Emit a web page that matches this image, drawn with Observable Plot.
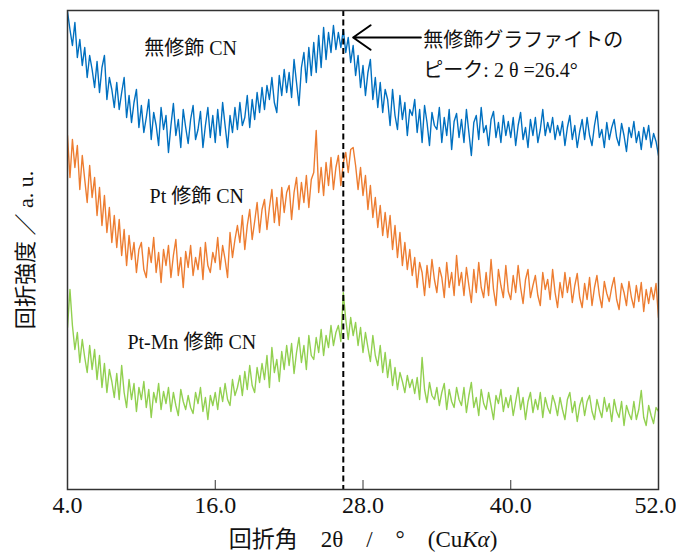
<!DOCTYPE html>
<html>
<head>
<meta charset="utf-8">
<script src="https://cdn.jsdelivr.net/npm/d3@7"></script>
<script src="https://cdn.jsdelivr.net/npm/@observablehq/plot@0.6"></script>
<style>
  html, body { margin: 0; padding: 0; background: #fff; }
  #chart { width: 676px; height: 553px; }
</style>
</head>
<body>
<div id="chart"></div>
<script>
// 2θ sampling grid (degrees)
const twoThetaStart = 4.0;
const twoThetaStep = 0.2;

// Intensity (a.u.), one value per 0.2° from 4.0° to 52.0°
const unmodifiedCN = [
  476, 458, 442, 465, 430, 448, 422, 440, 410, 432,
  418, 400, 426, 395, 420, 432, 388, 410, 398, 380,
  405, 378, 395, 410, 370, 392, 365, 385, 398, 360,
  382, 355, 370, 388, 348, 375, 362, 342, 380, 358,
  372, 335, 362, 384, 352, 368, 340, 378, 360, 344,
  368, 382, 348, 358, 376, 340, 362, 380, 350, 372,
  345, 378, 352, 385, 362, 340, 372, 355, 380, 358,
  385, 362, 370, 392, 360, 388, 368, 395, 375, 400,
  378, 402, 388, 410, 385, 375, 412, 392, 418, 395,
  415, 390, 428, 405, 382, 420, 435, 405, 440, 412,
  445, 415, 452, 420, 460, 428, 455, 435, 462, 438,
  455, 440, 458, 435, 450, 425, 442, 412, 432, 400,
  422, 392, 415, 428, 388, 410, 380, 405, 375, 398,
  388, 362, 398, 372, 358, 392, 368, 385, 352, 378,
  372, 388, 355, 378, 345, 382, 365, 342, 375, 362,
  358, 380, 345, 370, 352, 378, 338, 366, 374, 350,
  368, 345, 378, 355, 332, 365, 372, 348, 380, 355,
  362, 342, 368, 376, 350, 365, 345, 372, 352, 366,
  350, 370, 342, 362, 375, 348, 360, 340, 368, 352,
  370, 345, 358, 378, 352, 365, 355, 370, 348, 362,
  352, 366, 342, 360, 372, 348, 362, 340, 356, 368,
  348, 370, 352, 342, 362, 376, 350, 358, 340, 365,
  348, 360, 368, 350, 342, 364, 352, 336, 360, 350,
  366, 345, 356, 338, 360, 348, 362, 340, 354, 346,
  332
];

const ptCN = [
  352, 310, 348, 320, 342, 298, 332, 308, 285, 322,
  290, 310, 272, 300, 262, 292, 255, 280, 245, 272,
  240, 268, 232, 258, 222, 252, 228, 245, 215, 238,
  245, 218, 210, 240, 225, 250, 215, 235, 205, 238,
  222, 242, 210, 232, 248, 212, 230, 200, 236, 220,
  242, 212, 230, 218, 240, 208, 245, 222, 215, 235,
  225, 250, 218, 242, 228, 210, 255, 230, 248, 262,
  245, 272, 238, 262, 278, 248, 266, 285, 255, 278,
  288, 258, 280, 298, 265, 290, 262, 300, 275, 295,
  302, 268, 295, 310, 278, 305, 285, 312, 280, 308,
  315, 357, 295, 320, 292, 325, 302, 330, 298, 320,
  332, 302, 325, 335, 315, 338, 340, 322, 298, 320,
  292, 312, 278, 302, 270, 290, 260, 282, 252, 275,
  250, 272, 238, 262, 230, 255, 222, 245, 218, 238,
  212, 230, 200, 225, 215, 192, 222, 200, 228, 208,
  195, 220, 210, 190, 225, 200, 215, 192, 232, 202,
  215, 192, 220, 202, 185, 218, 195, 225, 200, 190,
  215, 192, 228, 198, 182, 218, 202, 190, 222, 196,
  188, 212, 195, 222, 200, 184, 208, 218, 190, 202,
  212, 192, 182, 215, 198, 208, 188, 218, 195, 180,
  205, 190, 215, 195, 210, 185, 202, 214, 190, 180,
  204, 188, 210, 182, 200, 212, 192, 180, 206, 194,
  186, 200, 210, 188, 178, 204, 195, 182, 206, 190,
  180, 202, 186, 205, 176, 198, 184, 200, 188, 204,
  170
];

const ptMnCN = [
  160, 198, 162, 138, 155, 125, 148, 130, 115, 142,
  118, 138, 108, 132, 100, 124, 95, 118, 106, 90,
  114, 88, 122, 95, 80, 108, 88, 104, 76, 100,
  88, 106, 80, 98, 70, 95, 85, 104, 78, 96,
  84, 100, 76, 95, 82, 72, 98, 86, 78, 92,
  80, 74, 95, 84, 100, 76, 90, 68, 92, 82,
  95, 78, 100, 86, 104, 88, 82, 108, 92, 100,
  112, 92, 116, 98, 122, 102, 95, 120, 105, 124,
  108, 132, 100, 140, 115, 128, 106, 136, 118, 142,
  122, 144, 114, 135, 150, 125, 142, 118, 152, 132,
  128, 150, 135, 158, 132, 152, 140, 162, 142, 155,
  162, 146, 195, 168, 148, 170, 152, 165, 142, 160,
  135, 155, 140, 126, 152, 132, 122, 142, 115, 135,
  110, 128, 102, 120, 98, 115, 106, 95, 112, 100,
  108, 94, 110, 88, 130, 98, 85, 105, 92, 88,
  100, 82, 95, 104, 78, 98, 86, 80, 100, 88,
  82, 100, 75, 92, 105, 80, 90, 72, 98, 84,
  78, 95, 82, 68, 92, 84, 98, 76, 90, 80,
  92, 72, 86, 100, 78, 90, 68, 86, 95, 75,
  88, 78, 95, 70, 90, 80, 74, 92, 84, 72,
  90, 78, 68, 88, 95, 75, 86, 66, 82, 90,
  72, 86, 92, 76, 68, 88, 78, 70, 90, 76,
  84, 66, 88, 76, 70, 86, 62, 82, 74, 68,
  86, 68, 78, 97, 70, 62, 82, 72, 64, 80,
  76
];

const xTickValues = [4, 16, 28, 40];
const xLastTick = [52];
const xInnerTicks = [16, 28, 40];
const graphitePeak = [26.4];

const seriesNames = ["無修飾 CN", "Pt 修飾 CN", "Pt-Mn 修飾 CN"];
const seriesColors = ["#0070C0", "#ED7D31", "#92D050"];
const seriesLabelX = [14.0, 14.5, 14.1];
const seriesLabelY = [439, 291, 145];

const peakNoteLines = ["無修飾グラファイトの", "ピーク: 2 θ =26.4°"];
const peakNoteX = 32.9;
const peakNoteY = [447, 417];
const arrowFrom = {x: 32.7, y: 450};
const arrowTo = {x: 27.2, y: 450};

const xTitle = "回折角　2θ　/　°　(CuKα)";
const yTitle = "回折強度 ／ a. u.";

const serif = "'Liberation Serif', 'Times New Roman', 'Noto Sans CJK JP', serif";

const twoTheta = unmodifiedCN.map((_, i) => +(twoThetaStart + i * twoThetaStep).toFixed(2));
const series = [unmodifiedCN, ptCN, ptMnCN];
const rows = series.flatMap((vals, s) =>
  vals.map((v, i) => ({x: twoTheta[i], y: v, name: seriesNames[s]})));
const labels = seriesNames.map((n, i) => ({x: seriesLabelX[i], y: seriesLabelY[i], text: n}));
const notes = peakNoteLines.map((t, i) => ({x: peakNoteX, y: peakNoteY[i], text: t}));

const chart = Plot.plot({
  width: 676,
  height: 553,
  marginLeft: 67,
  marginRight: 18,
  marginTop: 10,
  marginBottom: 64,
  style: {background: "#fff", fontFamily: serif, overflow: "visible"},
  x: {domain: [4, 52], axis: null},
  y: {domain: [-2, 477], axis: null},
  color: {domain: seriesNames, range: seriesColors},
  marks: [
    Plot.line(rows, {x: "x", y: "y", z: "name", stroke: "name", strokeWidth: 1.4, clip: true}),
    Plot.ruleX(graphitePeak, {stroke: "#000", strokeWidth: 2, strokeDasharray: "6,3.5"}),
    Plot.frame({stroke: "#333", strokeWidth: 1.5}),
    Plot.tickX(xInnerTicks, {x: d => d, stroke: "#333", strokeWidth: 1, insetTop: 470}),
    Plot.text(xTickValues, {x: d => d, text: d => d.toFixed(1), frameAnchor: "bottom", lineAnchor: "middle", dy: 16, fontSize: 24, fill: "#111"}),
    Plot.text(xLastTick, {x: d => d, text: d => d.toFixed(1), frameAnchor: "bottom", lineAnchor: "middle", dy: 16, dx: -3, fontSize: 24, fill: "#111"}),
    Plot.text(labels, {x: "x", y: "y", text: "text", fontSize: 20, fill: "#111"}),
    Plot.arrow([{}], {x1: () => arrowFrom.x, y1: () => arrowFrom.y, x2: () => arrowTo.x, y2: () => arrowTo.y,
      stroke: "#000", strokeWidth: 2, headLength: 16, headAngle: 70}),
    Plot.text(notes, {x: "x", y: "y", text: "text", textAnchor: "start", fontSize: 20, fill: "#111"}),
    Plot.text([xTitle], {text: d => d, frameAnchor: "bottom", lineAnchor: "middle", textAnchor: "middle", dy: 50, fontSize: 23, fill: "#111"}),
    Plot.text([yTitle], {text: d => d, frameAnchor: "left", lineAnchor: "middle", textAnchor: "middle", dx: -42, rotate: -90, fontSize: 22, fill: "#111"})
  ]
});

// italic K and α in the x-axis title
chart.querySelectorAll("text").forEach(t => {
  if (t.textContent === xTitle) {
    t.innerHTML = "回折角　2θ　/　°　(Cu<tspan font-style=\"italic\">Kα</tspan>)";
  }
});

document.getElementById("chart").append(chart);
</script>
</body>
</html>
